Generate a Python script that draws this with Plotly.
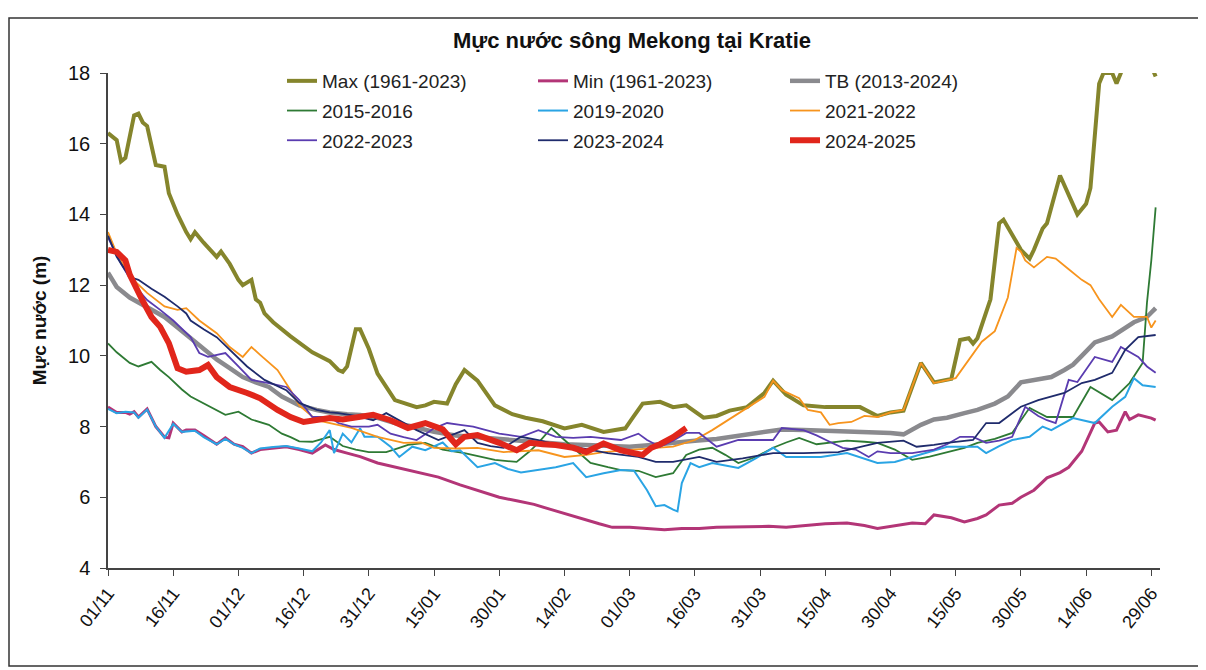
import datetime as dt
import plotly.graph_objects as go

START = dt.date(2024, 11, 1)

# ---- data: (day offset from 01/11, water level in m) ----
max_days = [0,2,3,4,6,7,8,9,11,13,14,16,18,19,20,22,25,26,28,30,31,33,34,35,36,38,42,47,51,53,54,55,57,58,60,62,66,71,73,75,78,80,82,85,89,93,96,100,105,109,114,119,121,123,127,130,133,137,140,143,147,151,153,156,160,165,173,177,180,183,187,190,194,195,196,198,199,200,203,205,206,210,212,213,215,216,219,223,225,226,228,229,231,232,233,234,239,240,241]
max_vals = [16.3,16.1,15.5,15.6,16.8,16.85,16.6,16.5,15.4,15.35,14.6,14.0,13.5,13.3,13.5,13.2,12.8,12.95,12.6,12.15,12.0,12.15,11.6,11.5,11.2,10.95,10.55,10.1,9.85,9.6,9.55,9.7,10.75,10.75,10.2,9.5,8.75,8.55,8.6,8.7,8.65,9.2,9.6,9.3,8.6,8.35,8.25,8.15,7.95,8.05,7.85,7.95,8.3,8.65,8.7,8.55,8.6,8.25,8.3,8.45,8.55,8.95,9.3,8.9,8.6,8.55,8.55,8.3,8.4,8.45,9.8,9.25,9.35,9.9,10.45,10.5,10.35,10.5,11.6,13.75,13.85,13.0,12.75,13.0,13.6,13.75,15.1,14.0,14.3,14.75,17.7,18.0,18.0,17.7,18.0,18.8,18.8,18.2,17.9]

min_days = [0,2,4,5,6,7,9,11,13,14,15,17,18,20,22,25,27,29,31,33,35,38,41,44,47,50,52,55,58,62,66,71,76,81,86,90,94,98,102,106,110,113,116,120,124,128,132,136,140,144,148,152,156,160,165,170,174,177,181,185,188,190,194,197,200,202,205,208,210,213,216,219,221,224,227,228,230,232,234,235,237,240,241]
min_vals = [8.55,8.4,8.4,8.35,8.42,8.27,8.5,8.0,7.7,7.68,8.1,7.85,7.9,7.9,7.75,7.5,7.68,7.5,7.43,7.25,7.35,7.4,7.43,7.35,7.25,7.48,7.35,7.25,7.15,6.97,6.85,6.7,6.57,6.35,6.15,6.0,5.9,5.8,5.65,5.5,5.35,5.25,5.15,5.15,5.12,5.08,5.12,5.12,5.15,5.16,5.15,5.18,5.15,5.2,5.25,5.27,5.2,5.12,5.2,5.27,5.25,5.5,5.42,5.3,5.4,5.5,5.78,5.83,6.0,6.2,6.55,6.7,6.85,7.3,8.1,8.13,7.85,7.9,8.42,8.2,8.33,8.24,8.18]

tb_days = [0,2,5,7,10,13,16,19,22,25,28,31,34,37,40,44,48,51,55,58,62,66,70,75,80,85,90,95,100,105,110,115,120,125,130,135,140,145,150,155,160,165,170,175,180,183,187,190,193,197,200,204,207,210,214,217,220,222,224,227,231,234,236,239,241]
tb_vals = [12.35,11.95,11.65,11.52,11.3,11.1,10.8,10.5,10.2,9.9,9.65,9.4,9.25,9.12,8.85,8.6,8.47,8.4,8.35,8.33,8.25,8.1,8.0,7.85,7.75,7.7,7.62,7.58,7.55,7.5,7.48,7.45,7.43,7.48,7.55,7.6,7.65,7.75,7.85,7.92,7.9,7.88,7.88,7.87,7.82,7.78,8.05,8.2,8.25,8.38,8.47,8.65,8.85,9.25,9.33,9.4,9.6,9.75,10.0,10.38,10.55,10.8,10.95,11.1,11.35]

y1516_days = [0,2,5,7,10,12,14,17,19,22,25,27,30,33,37,40,42,44,47,51,54,57,60,64,67,69,73,77,82,86,89,94,97,99,102,105,108,111,115,118,122,126,130,133,136,139,142,145,149,153,156,159,163,166,170,174,177,181,185,189,193,197,200,204,208,212,214,216,222,226,231,235,238,239,240,241]
y1516_vals = [10.35,10.1,9.8,9.7,9.83,9.6,9.4,9.05,8.85,8.65,8.47,8.33,8.42,8.2,8.05,7.8,7.7,7.58,7.57,7.71,7.45,7.35,7.28,7.28,7.4,7.48,7.54,7.35,7.25,7.15,7.06,7.0,7.3,7.54,7.96,7.62,7.3,6.97,6.85,6.77,6.75,6.57,6.68,7.2,7.35,7.4,7.2,6.97,7.14,7.4,7.55,7.68,7.5,7.55,7.6,7.57,7.54,7.35,7.06,7.15,7.28,7.4,7.54,7.65,7.82,8.53,8.4,8.27,8.27,9.12,8.75,9.23,9.8,11.5,12.7,14.2]

y1920_days = [0,2,4,6,7,9,11,13,15,17,20,22,25,27,29,31,33,35,38,41,44,47,49,51,52,54,56,58,59,62,65,67,70,73,77,79,81,85,89,92,95,99,103,107,110,114,118,121,124,126,128,130,131,132,134,136,139,142,145,149,153,156,160,164,170,174,177,181,185,189,193,200,202,205,208,212,215,217,222,227,231,234,236,238,241]
y1920_vals = [8.5,8.38,8.42,8.4,8.25,8.48,8.0,7.68,8.08,7.85,7.88,7.7,7.5,7.65,7.5,7.4,7.25,7.38,7.42,7.45,7.38,7.3,7.55,7.9,7.25,7.8,7.55,7.95,7.71,7.71,7.43,7.14,7.43,7.33,7.55,7.3,7.33,6.85,6.97,6.8,6.7,6.77,6.85,6.97,6.57,6.68,6.77,6.75,6.2,5.75,5.78,5.65,5.6,6.4,6.97,6.85,6.97,6.9,6.83,7.1,7.4,7.14,7.14,7.14,7.25,7.1,6.97,7.0,7.14,7.3,7.43,7.43,7.25,7.45,7.62,7.71,8.0,7.9,8.24,8.1,8.56,8.84,9.37,9.17,9.12]

y2122_days = [0,2,5,9,13,16,18,21,25,28,31,33,35,39,42,44,48,51,56,62,65,68,72,75,80,85,91,95,99,105,110,114,120,126,130,135,139,145,151,153,155,159,161,164,166,168,171,174,177,180,183,187,190,195,198,201,204,207,209,210,211,213,216,218,221,224,226,228,231,233,236,239,240,241]
y2122_vals = [13.5,12.9,12.25,11.78,11.4,11.3,11.35,11.0,10.64,10.25,9.97,10.25,10.03,9.6,9.03,8.6,8.18,8.1,7.96,7.71,7.62,7.54,7.55,7.4,7.38,7.4,7.28,7.3,7.33,7.14,7.2,7.28,7.35,7.4,7.43,7.62,7.9,8.38,8.84,9.3,9.03,8.8,8.47,8.4,8.05,8.1,8.13,8.3,8.27,8.4,8.47,9.8,9.23,9.37,9.9,10.4,10.7,11.65,13.05,12.95,12.7,12.5,12.8,12.75,12.45,12.15,12.0,11.6,11.1,11.44,11.1,11.1,10.8,11.0]

y2223_days = [0,3,6,9,12,15,19,21,23,27,30,33,37,41,44,47,51,53,56,60,62,65,68,71,75,78,81,84,87,90,95,99,103,107,111,118,122,124,127,130,133,136,140,145,153,155,160,163,166,169,172,175,177,180,185,190,193,196,199,202,205,208,211,214,216,218,221,223,227,231,233,237,239,241]
y2223_vals = [13.35,12.6,12.0,11.58,11.3,11.0,10.53,10.08,9.97,10.08,9.7,9.32,9.23,9.12,8.75,8.27,8.27,8.1,8.0,8.0,8.05,7.8,7.7,7.62,7.95,8.1,8.05,8.0,7.9,7.8,7.71,7.9,7.71,7.68,7.71,7.62,7.8,7.62,7.43,7.6,7.82,7.82,7.43,7.62,7.62,7.96,7.9,7.75,7.57,7.4,7.35,7.14,7.3,7.25,7.25,7.35,7.5,7.71,7.71,7.54,7.6,7.71,8.56,8.3,8.18,8.1,9.32,9.26,9.97,9.83,10.25,9.97,9.7,9.52]

y2324_days = [0,2,5,7,10,13,16,18,19,22,25,28,32,36,41,44,48,51,53,57,61,64,67,71,76,79,82,85,88,91,95,99,103,107,111,115,122,126,130,133,136,140,146,153,160,168,172,177,183,186,190,193,199,202,205,210,214,220,224,227,231,234,237,241]
y2324_vals = [13.4,12.8,12.23,12.15,11.9,11.67,11.4,11.2,11.0,10.75,10.53,10.17,9.7,9.32,9.03,8.67,8.47,8.4,8.38,8.3,8.18,8.38,8.18,7.9,7.62,7.75,7.9,7.54,7.45,7.4,7.71,7.62,7.5,7.43,7.35,7.25,7.14,7.0,7.0,7.08,7.14,7.0,7.1,7.25,7.25,7.28,7.4,7.54,7.6,7.43,7.48,7.54,7.62,8.1,8.1,8.56,8.75,8.95,9.23,9.32,9.52,10.17,10.53,10.59]

y2425_days = [0,2,4,5,8,10,12,14,16,18,21,23,25,28,32,35,39,42,45,48,51,54,57,61,65,69,73,77,80,82,85,88,90,94,97,100,103,107,110,114,118,121,123,125,127,130,133]
y2425_vals = [13.0,12.94,12.7,12.3,11.55,11.1,10.82,10.36,9.65,9.55,9.6,9.74,9.4,9.12,8.95,8.8,8.47,8.27,8.13,8.18,8.24,8.2,8.27,8.33,8.18,7.96,8.1,7.92,7.5,7.71,7.76,7.6,7.54,7.33,7.54,7.5,7.48,7.4,7.28,7.52,7.33,7.25,7.2,7.4,7.5,7.7,7.96]

series = [
    ("Max (1961-2023)", max_days, max_vals, "#85852c", 4, "legend"),
    ("Min (1961-2023)", min_days, min_vals, "#b33577", 3, "legend2"),
    ("TB (2013-2024)", tb_days, tb_vals, "#8a8a8e", 4.5, "legend3"),
    ("2015-2016", y1516_days, y1516_vals, "#2e7a34", 1.8, "legend"),
    ("2019-2020", y1920_days, y1920_vals, "#2aa4e4", 2, "legend2"),
    ("2021-2022", y2122_days, y2122_vals, "#f7941d", 1.8, "legend3"),
    ("2022-2023", y2223_days, y2223_vals, "#5a3cb0", 1.8, "legend"),
    ("2023-2024", y2324_days, y2324_vals, "#1f2b6c", 1.8, "legend2"),
    ("2024-2025", y2425_days, y2425_vals, "#e1261b", 6, "legend3"),
]

FONT = "Liberation Sans, Arial, sans-serif"
OFF = 8                      # page body margin in the browser
W, H = 1206 - OFF, 670 - OFF
ML, MR, MT, MB = 100, 46, 65, 102
PW, PH = W - ML - MR, H - MT - MB

def px_x(p):
    """reference-screen x pixel -> paper coordinate"""
    return (p - OFF - ML) / PW

def px_y(p):
    """reference-screen y pixel -> paper coordinate"""
    return (H - MB - (p - OFF)) / PH

fig = go.Figure()
for name, days, vals, color, width, leg in series:
    xs = [START + dt.timedelta(days=d) for d in days]
    fig.add_trace(go.Scatter(
        x=xs, y=vals, mode="lines", name=name,
        line=dict(color=color, width=width),
        legend=leg, legendgroup=name,
    ))

legend_common = dict(
    font=dict(family=FONT, size=19, color="#222"),
    bgcolor="rgba(0,0,0,0)", tracegroupgap=2,
    xanchor="left", yanchor="top", orientation="v",
)

fig.update_layout(
    width=W, height=H,
    margin=dict(l=ML, r=MR, t=MT, b=MB),
    paper_bgcolor="white", plot_bgcolor="white",
    title=dict(text="<b>Mực nước sông Mekong tại Kratie</b>",
               x=(632 - OFF) / W, xanchor="center", y=1 - (40 - OFF) / H, yanchor="middle",
               font=dict(family=FONT, size=22, color="#111")),
    showlegend=True,
    legend=dict(x=px_x(282), y=px_y(62), **legend_common),
    legend2=dict(x=px_x(533), y=px_y(62), **legend_common),
    legend3=dict(x=px_x(785), y=px_y(62), **legend_common),
    xaxis=dict(
        type="date", range=["2024-11-01", "2025-07-01"],
        tick0="2024-11-01", dtick=15 * 86400000, tickformat="%d/%m",
        tickangle=-52, ticks="outside", ticklen=6, tickcolor="#444",
        showline=True, linecolor="#444", linewidth=1.5,
        showgrid=False, zeroline=False,
        tickfont=dict(family=FONT, size=18, color="#111"),
    ),
    yaxis=dict(
        range=[4, 18], dtick=2, ticks="outside", ticklen=6, tickcolor="#444",
        showline=True, linecolor="#444", linewidth=1.5,
        showgrid=False, zeroline=False, ticklabelstandoff=6,
        tickfont=dict(family=FONT, size=20, color="#111"),
        title=dict(text="<b>Mực nước (m)</b>", standoff=16,
                   font=dict(family=FONT, size=19, color="#111")),
    ),
    shapes=[dict(type="rect", xref="paper", yref="paper",
                 x0=px_x(9), x1=px_x(1200), y0=px_y(666), y1=px_y(18),
                 line=dict(color="#333", width=1.5), fillcolor="rgba(0,0,0,0)",
                 layer="below")],
)

fig.write_html("out.html")
